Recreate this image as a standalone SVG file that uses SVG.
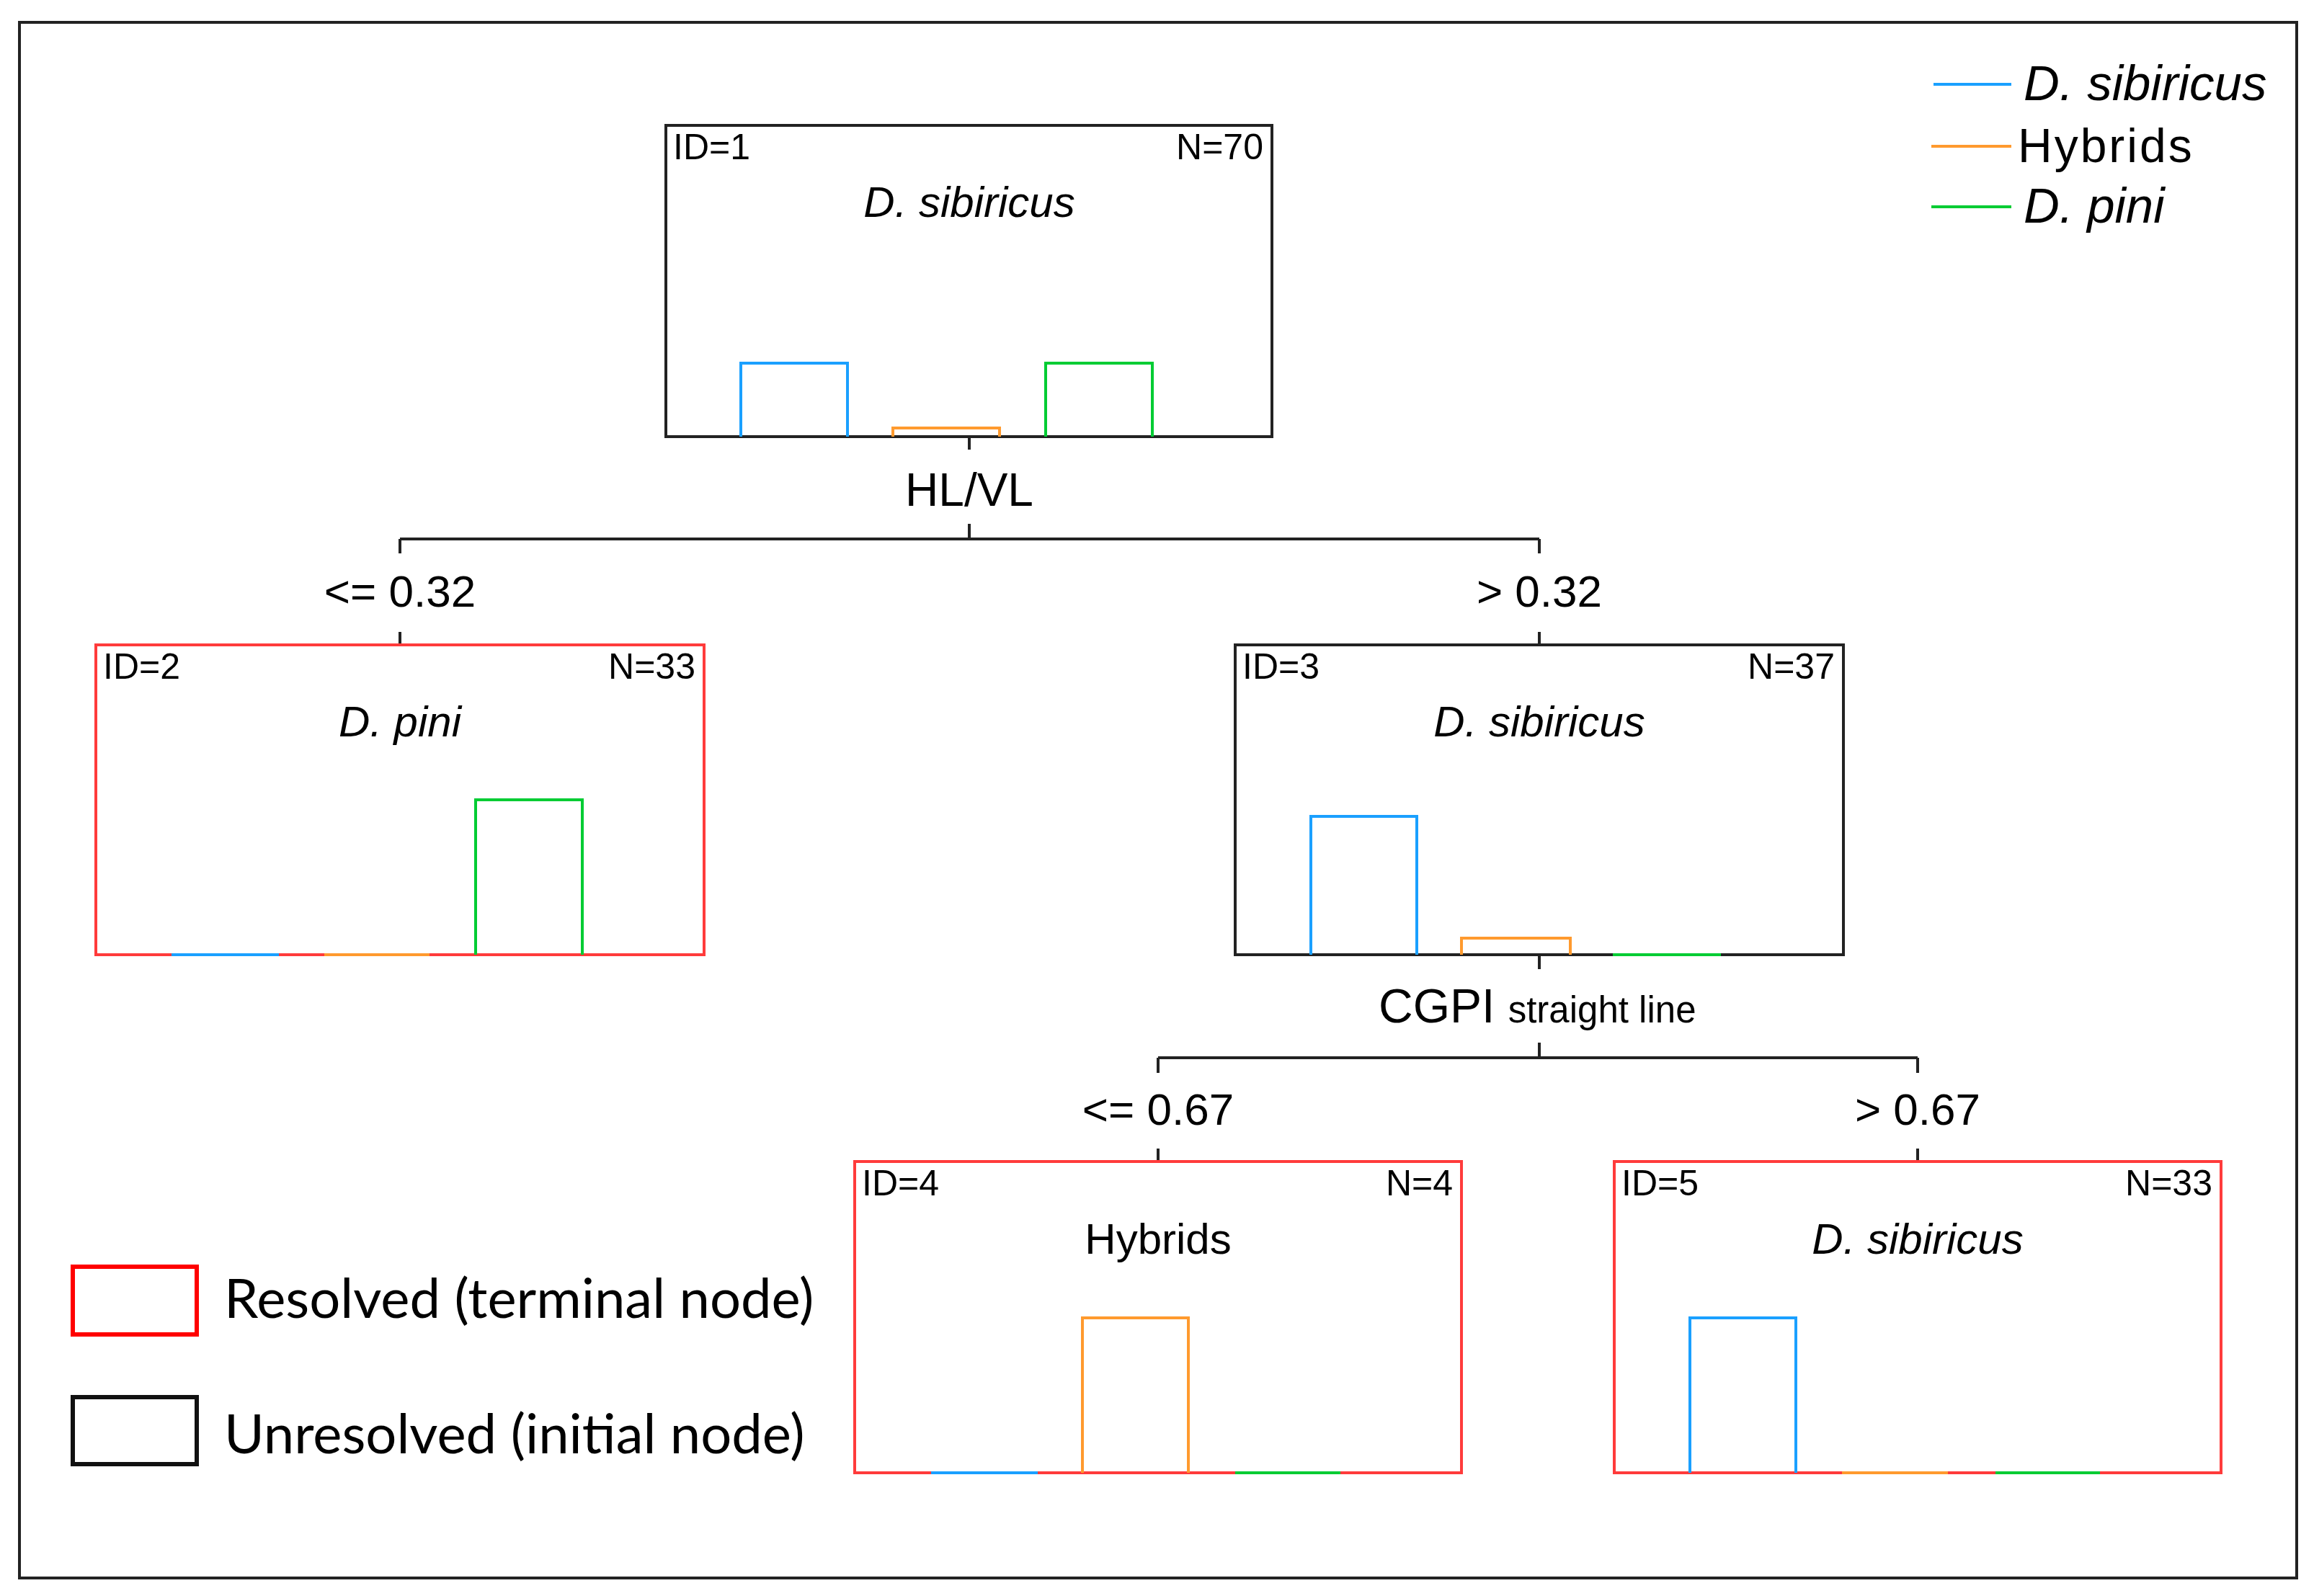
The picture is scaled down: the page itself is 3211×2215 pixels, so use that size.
<svg xmlns="http://www.w3.org/2000/svg" width="3211" height="2215" viewBox="0 0 3211 2215">
<style>
text{font-family:"Liberation Sans",Arial,sans-serif;fill:#000}
.nb{fill:#fff;stroke:#222;stroke-width:4}
.nr{fill:#fff;stroke:#ff3b3b;stroke-width:4}
.id{font-size:50px}
.nn{font-size:50px;text-anchor:end}
.cls{font-size:60px;text-anchor:middle}
.it{font-style:italic}
.lab{font-size:62px;text-anchor:middle}
.con{stroke:#222;stroke-width:4;fill:none}
.b{stroke:#1aa0ff;stroke-width:4;fill:none}
.o{stroke:#ff9a2e;stroke-width:4;fill:none}
.g{stroke:#00cc33;stroke-width:4;fill:none}
.leg{font-family:Lato,"Open Sans",sans-serif;font-size:76px}
.lg{font-size:66px}
.lgi{font-size:69px;font-style:italic}
</style>
<rect x="0" y="0" width="3211" height="2215" fill="#fff"/>
<rect x="27" y="31" width="3160" height="2159" fill="none" stroke="#222" stroke-width="4"/>

<g id="connectors">
<path class="con" d="M1345 606 V624 M1345 727 V748 M555 748 H2136 M555 748 V768 M2136 748 V768 M555 877 V895 M2136 877 V895"/>
<path class="con" d="M2136 1325 V1345 M2136 1447 V1468 M1607 1468 H2661 M1607 1468 V1489 M2661 1468 V1489 M1607 1594 V1612 M2661 1594 V1612"/>
<text class="lab" x="1345" y="702" style="font-size:64px">HL/VL</text>
<text class="lab" x="555" y="842">&lt;= 0.32</text>
<text class="lab" x="2136" y="842">&gt; 0.32</text>
<text x="1913" y="1419" style="font-size:66px">CGPI <tspan style="font-size:51px">straight line</tspan></text>
<text class="lab" x="1607" y="1561">&lt;= 0.67</text>
<text class="lab" x="2661" y="1561">&gt; 0.67</text>
</g>

<g id="node1">
<rect class="nb" x="924" y="174" width="841" height="432"/>
<text class="id" x="934" y="221">ID=1</text>
<text class="nn" x="1753" y="221">N=70</text>
<text class="cls it" x="1345" y="301">D. sibiricus</text>
<path class="b" d="M1028 606 V504 H1176 V606"/>
<path class="o" d="M1239 606 V594 H1387 V606"/>
<path class="g" d="M1451 606 V504 H1599 V606"/>
</g>

<g id="node2">
<rect class="nr" x="133" y="895" width="844" height="430"/>
<text class="id" x="143" y="942">ID=2</text>
<text class="nn" x="965" y="942">N=33</text>
<text class="cls it" x="555" y="1022">D. pini</text>
<path class="b" d="M238 1325 H387"/>
<path class="o" d="M450 1325 H596"/>
<path class="g" d="M660 1325 V1110 H808 V1325"/>
</g>

<g id="node3">
<rect class="nb" x="1714" y="895" width="844" height="430"/>
<text class="id" x="1724" y="942">ID=3</text>
<text class="nn" x="2546" y="942">N=37</text>
<text class="cls it" x="2136" y="1022">D. sibiricus</text>
<path class="b" d="M1819 1325 V1133 H1966 V1325"/>
<path class="o" d="M2028 1325 V1302 H2179 V1325"/>
<path class="g" d="M2238 1325 H2388"/>
</g>

<g id="node4">
<rect class="nr" x="1186" y="1612" width="842" height="432"/>
<text class="id" x="1196" y="1659">ID=4</text>
<text class="nn" x="2016" y="1659">N=4</text>
<text class="cls" x="1607" y="1740">Hybrids</text>
<path class="b" d="M1292 2044 H1440"/>
<path class="o" d="M1502 2044 V1829 H1649 V2044"/>
<path class="g" d="M1714 2044 H1860"/>
</g>

<g id="node5">
<rect class="nr" x="2240" y="1612" width="842" height="432"/>
<text class="id" x="2250" y="1659">ID=5</text>
<text class="nn" x="3070" y="1659">N=33</text>
<text class="cls it" x="2661" y="1740">D. sibiricus</text>
<path class="b" d="M2345 2044 V1829 H2492 V2044"/>
<path class="o" d="M2556 2044 H2703"/>
<path class="g" d="M2769 2044 H2914"/>
</g>

<g id="legend-species">
<path class="b" d="M2683 117 H2791"/>
<text class="lgi" x="2808" y="139">D. sibiricus</text>
<path class="o" d="M2680 203 H2791"/>
<text class="lg" x="2800" y="225" letter-spacing="3">Hybrids</text>
<path class="g" d="M2680 287 H2791"/>
<text class="lgi" x="2808" y="309">D. pini</text>
</g>

<g id="legend-nodes">
<rect x="101" y="1758" width="172" height="94" fill="#fff" stroke="#ff0000" stroke-width="6"/>
<text class="leg" x="311" y="1829">Resolved (terminal node)</text>
<rect x="101" y="1939" width="172" height="93" fill="#fff" stroke="#111" stroke-width="6"/>
<text class="leg" x="311" y="2017">Unresolved (initial node)</text>
</g>
</svg>
